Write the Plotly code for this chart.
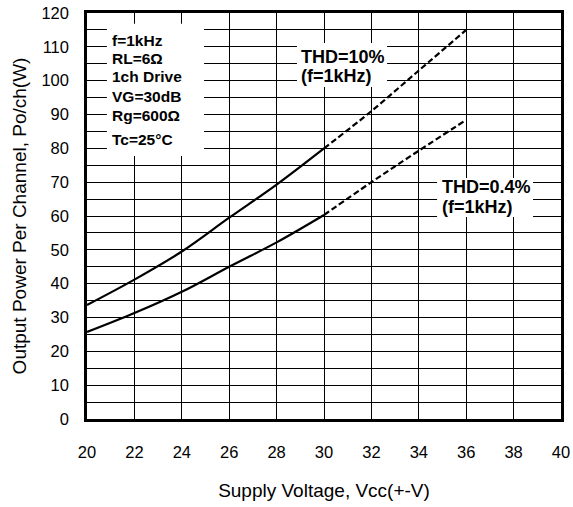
import plotly.graph_objects as go

vcc = [20, 22, 24, 26, 28, 30, 32, 34, 36]
thd10 = [33.7, 41.2, 49.5, 59.5, 69.3, 80.0, 91.0, 103.0, 115.0]
thd04 = [25.7, 31.3, 37.6, 45.0, 52.2, 60.3, 70.0, 79.3, 88.4]
split = 5  # index of Vcc=30 where curves turn dashed

info_lines = ["f=1kHz", "RL=6Ω", "1ch Drive", "VG=30dB", "Rg=600Ω", "Tc=25°C"]
info_y = [112.0, 106.7, 101.1, 95.2, 89.6, 82.5]

x_ticks = list(range(20, 41, 2))
y_ticks = list(range(0, 121, 10))

fig = go.Figure()
for ys in (thd10, thd04):
    fig.add_trace(go.Scatter(x=vcc[:split + 1], y=ys[:split + 1], mode="lines",
                             line=dict(color="black", width=2.2, shape="spline"),
                             showlegend=False, hoverinfo="skip"))
    fig.add_trace(go.Scatter(x=vcc[split:], y=ys[split:], mode="lines",
                             line=dict(color="black", width=2.2, dash="6px,3px", shape="spline"),
                             showlegend=False, hoverinfo="skip"))

# white label boxes
for x0, x1, y0, y1 in [(20.84, 24.94, 77.7, 116.8), (28.86, 32.66, 98.1, 111.1), (34.77, 38.82, 59.7, 71.2)]:
    fig.add_shape(type="rect", xref="x", yref="y", x0=x0, x1=x1, y0=y0, y1=y1,
                  fillcolor="white", line=dict(width=0), layer="above")

bold = dict(family="Liberation Sans, Arial, sans-serif", size=15.5, color="black")
for t, yy in zip(info_lines, info_y):
    fig.add_annotation(x=20.98, y=yy, text="<b>%s</b>" % t, showarrow=False,
                       xanchor="left", yanchor="middle", font=bold)

lbl = dict(family="Liberation Sans, Arial, sans-serif", size=18, color="black")
for t, xx, yy in [("THD=10%", 28.95, 107.0), ("(f=1kHz)", 28.95, 101.5),
                  ("THD=0.4%", 34.9, 68.6), ("(f=1kHz)", 34.9, 62.7)]:
    fig.add_annotation(x=xx, y=yy, text="<b>%s</b>" % t, showarrow=False,
                       xanchor="left", yanchor="middle", font=lbl)

font = "Liberation Sans, Arial, sans-serif"
fig.update_layout(
    width=573, height=507,
    margin=dict(l=87, r=12, t=13, b=88),
    paper_bgcolor="white", plot_bgcolor="white",
    xaxis=dict(range=[20, 40], tickvals=x_ticks, ticktext=[str(v) for v in x_ticks],
               showgrid=True, gridcolor="black", gridwidth=1.2,
               showline=True, linecolor="black", linewidth=2.5, mirror=True,
               ticks="outside", ticklen=16, tickcolor="rgba(0,0,0,0)",
               tickfont=dict(family=font, size=16.5, color="black"),
               title=dict(text="Supply Voltage, Vcc(+-V)", font=dict(family=font, size=19, color="black"),
                          standoff=25),
               automargin=False, zeroline=False, fixedrange=True),
    yaxis=dict(range=[0, 120], tickvals=y_ticks, ticktext=[str(v) for v in y_ticks],
               showgrid=True, gridcolor="black", gridwidth=1.2,
               minor=dict(dtick=5, showgrid=True, gridcolor="black", gridwidth=1.2),
               showline=True, linecolor="black", linewidth=2.5, mirror=True,
               ticks="outside", ticklen=12, tickcolor="rgba(0,0,0,0)",
               tickfont=dict(family=font, size=16.5, color="black"),
               title=dict(text="Output Power Per Channel, Po/ch(W)",
                          font=dict(family=font, size=19, color="black"), standoff=10),
               automargin=False, zeroline=False, fixedrange=True),
)
fig.write_html("out.html", config={"displayModeBar": False},
               post_script="document.body.style.margin='0px';document.body.style.overflow='hidden';")
